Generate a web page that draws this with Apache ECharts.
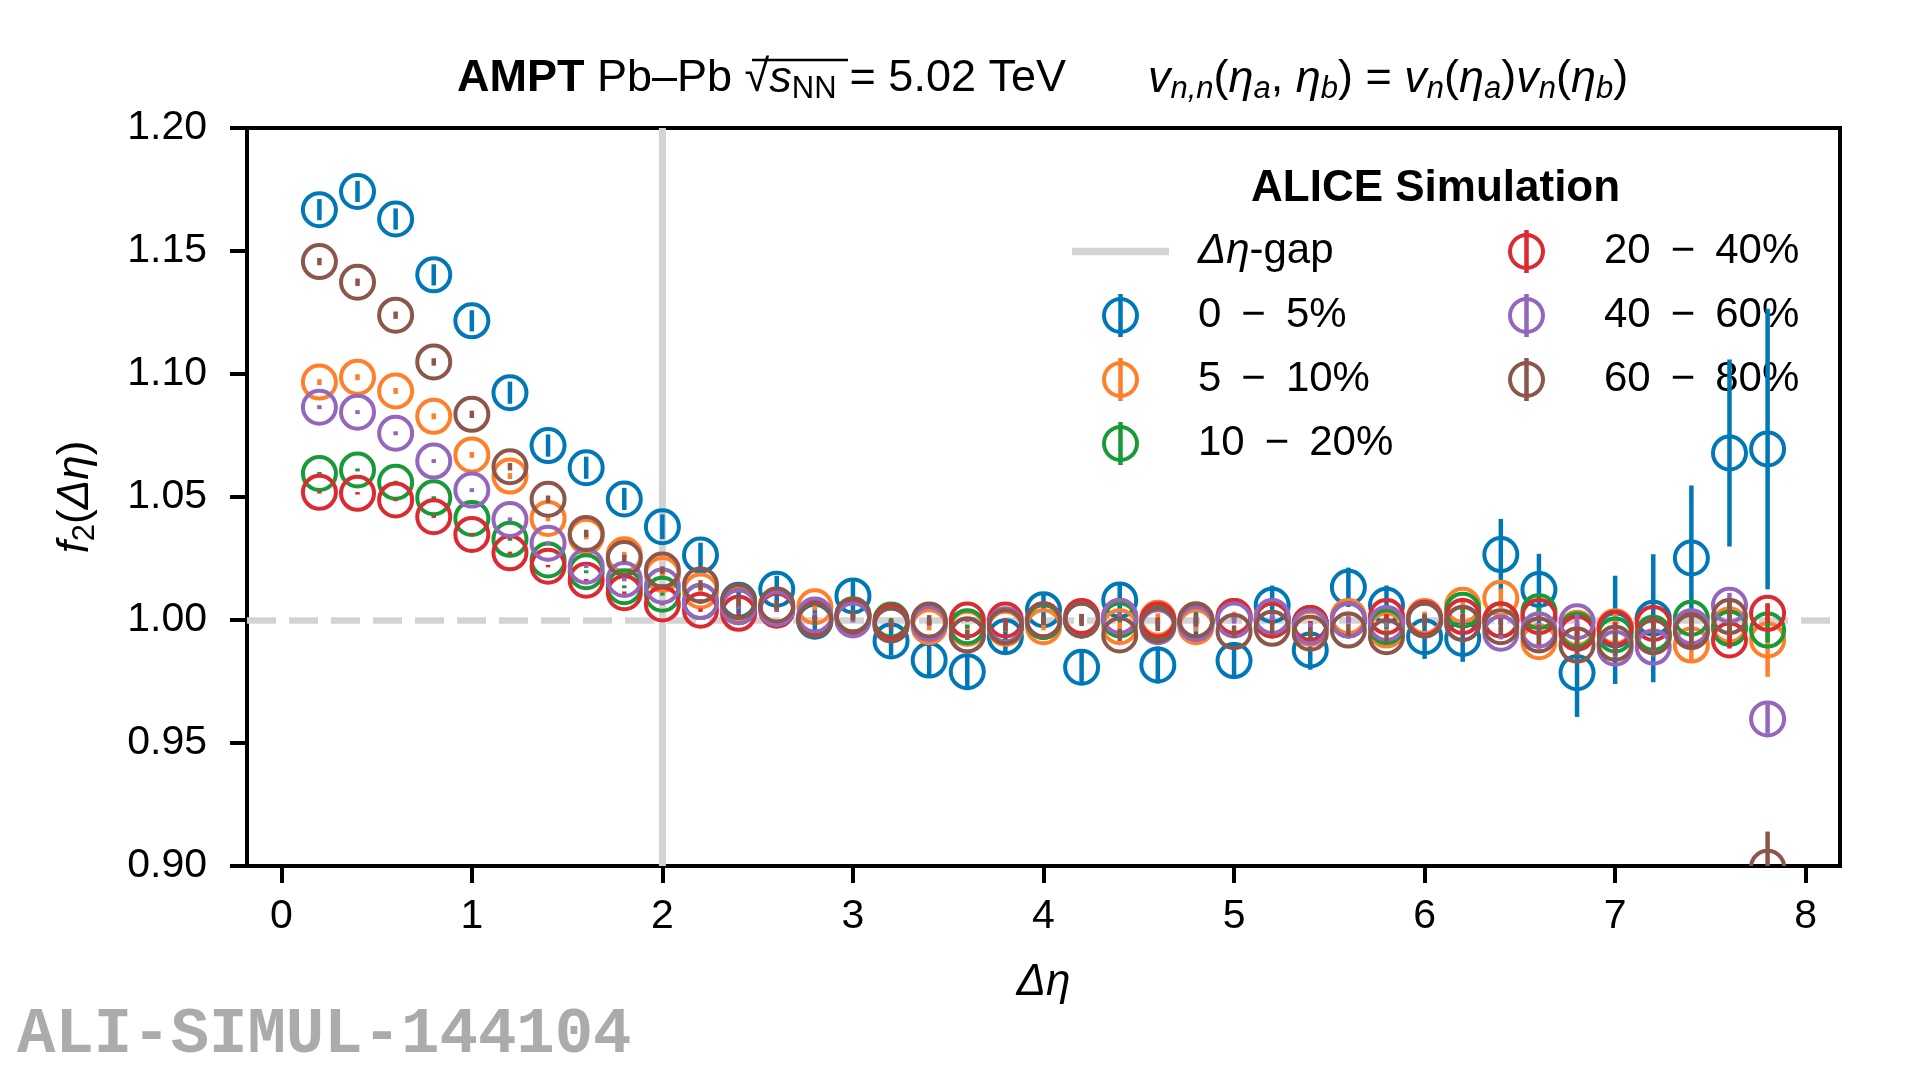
<!DOCTYPE html>
<html><head><meta charset="utf-8">
<script src="https://cdn.jsdelivr.net/npm/echarts@6/dist/echarts.min.js"></script>
<style>html,body{margin:0;padding:0;background:#fff}#c{width:1920px;height:1069px}</style>
</head><body><div id="c"></div>
<script>
// ---------------- data ----------------
const deltaEta = [0.2,0.4,0.6,0.8,1.0,1.2,1.4,1.6,1.8,2.0,2.2,2.4,2.6,2.8,3.0,3.2,3.4,3.6,3.8,4.0,4.2,4.4,4.6,4.8,5.0,5.2,5.4,5.6,5.8,6.0,6.2,6.4,6.6,6.8,7.0,7.2,7.4,7.6,7.8];
const centLabels = ['0 − 5%', '5 − 10%', '10 − 20%', '20 − 40%', '40 − 60%', '60 − 80%'];
const gapLabel = 'Δη-gap';
const gapEta = 2.0;
const refLevel = 1.0;
const xTicks = [0,1,2,3,4,5,6,7,8];
const xRange = [-0.18, 8.18];
const yTicks = [0.90,0.95,1.00,1.05,1.10,1.15,1.20];

const f_0_5  = [1.1668,1.1742,1.1630,1.1403,1.1216,1.0924,1.0709,1.0619,1.0492,1.0379,1.0264,1.0080,1.0125,0.9995,1.0098,0.9915,0.9837,0.9790,0.9932,1.0042,0.9808,1.0081,0.9817,0.9985,0.9835,1.0060,0.9878,1.0133,1.0060,0.9932,0.9925,1.0266,1.0124,0.9786,0.9960,1.0007,1.0252,1.0679,1.0695];
const f_5_10 = [1.0967,1.0987,1.0931,1.0828,1.0671,1.0585,1.0413,1.0340,1.0265,1.0185,1.0118,1.0068,1.0050,1.0054,1.0014,0.9987,0.9973,0.9966,0.9966,0.9973,1.0000,0.9973,1.0007,0.9973,1.0014,1.0000,0.9966,1.0014,0.9959,1.0014,1.0060,1.0088,0.9912,0.9966,0.9973,0.9932,0.9898,0.9980,0.9919];
const f_10_20= [1.0596,1.0610,1.0560,1.0497,1.0413,1.0328,1.0244,1.0196,1.0135,1.0105,1.0075,1.0054,1.0054,1.0007,1.0020,1.0000,0.9993,0.9973,0.9980,0.9993,1.0000,1.0000,0.9986,0.9993,1.0007,1.0000,0.9986,1.0000,0.9973,1.0000,1.0040,1.0000,1.0034,0.9959,0.9939,0.9946,1.0007,0.9966,0.9959];
const f_20_40= [1.0519,1.0515,1.0488,1.0420,1.0348,1.0273,1.0219,1.0162,1.0111,1.0065,1.0040,1.0027,1.0040,1.0007,1.0014,0.9993,0.9993,1.0000,1.0000,1.0000,1.0014,1.0014,1.0000,1.0000,1.0014,1.0000,0.9986,1.0000,1.0014,1.0007,1.0014,1.0000,1.0014,0.9946,0.9966,0.9986,0.9959,0.9919,1.0027];
const f_40_60= [1.0865,1.0845,1.0759,1.0646,1.0528,1.0409,1.0312,1.0219,1.0165,1.0138,1.0075,1.0054,1.0047,1.0020,1.0000,0.9980,0.9986,0.9939,0.9980,1.0000,1.0000,1.0014,0.9973,0.9986,1.0000,1.0014,0.9973,1.0000,0.9986,1.0000,0.9986,0.9946,0.9959,0.9993,0.9885,0.9890,0.9973,1.0060,0.9598];
const f_60_80= [1.1457,1.1373,1.1239,1.1049,1.0836,1.0623,1.0491,1.0352,1.0250,1.0203,1.0142,1.0075,1.0061,1.0000,1.0020,0.9980,1.0000,0.9939,0.9973,1.0000,1.0000,0.9939,0.9980,1.0000,0.9953,0.9966,0.9946,0.9959,0.9932,1.0000,0.9986,0.9973,0.9939,0.9898,0.9905,0.9932,0.9953,1.0014,0.8995];

const e_0_5  = [0.0043,0.0043,0.0043,0.0043,0.0043,0.0045,0.0045,0.0045,0.0045,0.005,0.005,0.005,0.0055,0.0055,0.006,0.006,0.0065,0.0065,0.0065,0.007,0.007,0.007,0.0075,0.0075,0.0075,0.008,0.008,0.008,0.008,0.009,0.0095,0.0145,0.0145,0.018,0.022,0.026,0.0295,0.038,0.057];
const e_5_10 = [0.0012,0.0012,0.0012,0.0012,0.0012,0.0012,0.0012,0.0012,0.0012,0.0012,0.0015,0.0015,0.0015,0.0015,0.0015,0.0015,0.0015,0.0015,0.0015,0.0015,0.002,0.002,0.002,0.002,0.002,0.002,0.002,0.002,0.002,0.002,0.003,0.004,0.004,0.005,0.006,0.006,0.007,0.009,0.015];
const e_10_20= [0.0006,0.0006,0.0006,0.0006,0.0006,0.0006,0.0006,0.0006,0.0006,0.0006,0.0008,0.0008,0.0008,0.0008,0.0008,0.0008,0.0008,0.0008,0.0008,0.0008,0.001,0.001,0.001,0.001,0.001,0.001,0.001,0.001,0.001,0.001,0.0015,0.002,0.002,0.0025,0.003,0.003,0.0035,0.004,0.005];
const e_20_40= [0.0005,0.0005,0.0005,0.0005,0.0005,0.0005,0.0005,0.0005,0.0005,0.0005,0.0007,0.0007,0.0007,0.0007,0.0007,0.0007,0.0007,0.0007,0.0007,0.0007,0.001,0.001,0.001,0.001,0.001,0.001,0.001,0.001,0.001,0.001,0.0012,0.0015,0.0018,0.002,0.0025,0.003,0.003,0.0035,0.004];
const e_40_60= [0.0008,0.0008,0.0008,0.0008,0.0008,0.0008,0.0008,0.0008,0.0008,0.0008,0.001,0.001,0.001,0.001,0.001,0.001,0.001,0.001,0.001,0.001,0.0015,0.0015,0.0015,0.0015,0.0015,0.0015,0.0015,0.0015,0.0015,0.0015,0.002,0.0025,0.003,0.003,0.0035,0.004,0.0045,0.005,0.006];
const e_60_80= [0.0015,0.0015,0.0015,0.0015,0.0015,0.0015,0.0015,0.0015,0.0015,0.0015,0.002,0.002,0.002,0.002,0.002,0.002,0.002,0.002,0.002,0.002,0.0025,0.0025,0.0025,0.0025,0.0025,0.0025,0.0025,0.0025,0.0025,0.0025,0.003,0.0035,0.004,0.0045,0.005,0.0055,0.006,0.007,0.0145];

// ---------------- styles ----------------
const colors = ['#0077b6', '#ff7f2a', '#1a9a36', '#dc2a32', '#9467bd', '#8c564b'];
const gapColor = '#d3d3d3';
const FONT = 'Liberation Sans, Arial, Helvetica, sans-serif';

const groups = [
  {name: centLabels[0], vals: f_0_5,  errs: e_0_5},
  {name: centLabels[1], vals: f_5_10, errs: e_5_10},
  {name: centLabels[2], vals: f_10_20,errs: e_10_20},
  {name: centLabels[3], vals: f_20_40,errs: e_20_40},
  {name: centLabels[4], vals: f_40_60,errs: e_40_60},
  {name: centLabels[5], vals: f_60_80,errs: e_60_80}
];

const markerIcon = 'path://M18.5 3A18.5 18.5 0 1 1 18.5 40A18.5 18.5 0 1 1 18.5 3Z' +
  'M18.5 7A14.5 14.5 0 1 0 18.5 36A14.5 14.5 0 1 0 18.5 7Z' +
  'M16.25 0L20.75 0L20.75 43L16.25 43Z';
const gapIcon = 'path://M0 0L97 0L97 7.5L0 7.5Z';

const series = [];
series.push({
  type: 'line', name: gapLabel, z: 2, silent: true,
  data: [[gapEta, yTicks[0]], [gapEta, yTicks[yTicks.length - 1]]],
  symbol: 'none',
  itemStyle: {color: gapColor},
  lineStyle: {color: gapColor, width: 7},
  markLine: {
    silent: true, symbol: ['none', 'none'], label: {show: false},
    lineStyle: {color: gapColor, width: 6.5, type: [29, 13]},
    data: [{yAxis: refLevel}]
  }
});
groups.forEach((g, i) => {
  const col = colors[i];
  series.push({
    type: 'custom', name: g.name, z: 10 + i, clip: true, silent: true,
    data: deltaEta.map((x, k) => [x, g.vals[k], g.errs[k]]),
    encode: {x: 0, y: 1},
    renderItem: (params, api) => {
      const x = api.value(0), y = api.value(1), e = api.value(2);
      const c = api.coord([x, y]);
      const a = api.coord([x, y - e]);
      const b = api.coord([x, y + e]);
      return {
        type: 'group',
        children: [
          {type: 'line', shape: {x1: a[0], y1: a[1], x2: b[0], y2: b[1]}, style: {stroke: col, lineWidth: 4.5}},
          {type: 'circle', shape: {cx: c[0], cy: c[1], r: 16.5}, style: {fill: 'none', stroke: col, lineWidth: 4}}
        ]
      };
    }
  });
});

const legendRich = {
  n: {fontFamily: FONT, fontSize: 42, color: '#000'},
  i: {fontFamily: FONT, fontSize: 42, fontStyle: 'italic', color: '#000'},
  m: {fontFamily: FONT, fontSize: 42, color: '#000', padding: [0, 20, 0, 20]}
};
const legendFormatter = (name) => {
  if (name === gapLabel) return '{i|Δη}{n|-gap}';
  const parts = name.split(' − ');
  return '{n|' + parts[0] + '}{m|−}{n|' + parts[1] + '}';
};
const legendCommon = {
  orient: 'vertical', itemWidth: 97, itemHeight: 43, itemGap: 21,
  selectedMode: false, symbolKeepAspect: true,
  formatter: legendFormatter,
  textStyle: {fontFamily: FONT, fontSize: 42, color: '#000', lineHeight: 43, padding: [0, 0, 0, 24], rich: legendRich}
};
const legendItem = (name, i) => ({name: name, icon: markerIcon, itemStyle: {color: colors[i], borderWidth: 0}});

const titleRich1 = {
  b: {fontFamily: FONT, fontSize: 45, fontWeight: 'bold', color: '#000', lineHeight: 52},
  n: {fontFamily: FONT, fontSize: 45, fontWeight: 'normal', color: '#000', lineHeight: 52},
  g: {fontFamily: FONT, fontSize: 45, fontWeight: 'normal', color: '#000', lineHeight: 52, width: 13},
  i: {fontFamily: FONT, fontSize: 45, fontWeight: 'normal', fontStyle: 'italic', color: '#000', lineHeight: 52},
  s: {fontFamily: FONT, fontSize: 31, fontWeight: 'normal', color: '#000', lineHeight: 24, verticalAlign: 'bottom'},
  si: {fontFamily: FONT, fontSize: 31, fontWeight: 'normal', fontStyle: 'italic', color: '#000', lineHeight: 24, verticalAlign: 'bottom'}
};
const titleStyle = {fontFamily: FONT, fontSize: 45, fontWeight: 'normal', color: '#000', rich: titleRich1};

const option = {
  animation: false,
  backgroundColor: '#fff',
  grid: {left: 247, right: 80, top: 128, bottom: 203, show: true, borderColor: '#000', borderWidth: 4, containLabel: false},
  title: [
    {left: 452, top: 48, text: '{b|AMPT}{n| Pb–Pb }{n|√}{i|s}{s|NN}{g|\u00a0}{n|= 5.02 TeV}', textStyle: titleStyle},
    {left: 1143, top: 48, text: '{i|v}{si|n,n}{n|(}{i|η}{si|a}{n|, }{i|η}{si|b}{n|) = }{i|v}{si|n}{n|(}{i|η}{si|a}{n|)}{i|v}{si|n}{n|(}{i|η}{si|b}{n|)}', textStyle: titleStyle},
    {left: 1246, top: 158, text: 'ALICE Simulation', textStyle: {fontFamily: FONT, fontSize: 44, fontWeight: 'bold', color: '#000', lineHeight: 52}},
    {left: 12, top: 996, text: 'ALI-SIMUL-144104', textStyle: {fontFamily: 'Liberation Mono, Courier New, monospace', fontSize: 64, fontWeight: 'bold', color: '#ababab', lineHeight: 70}}
  ],
  graphic: [
    {type: 'line', shape: {x1: 752, y1: 60, x2: 848, y2: 60}, style: {stroke: '#000', lineWidth: 2.5}, silent: true}
  ],
  legend: [
    Object.assign({left: 1067, top: 225, data: [{name: gapLabel, icon: gapIcon, itemStyle: {color: gapColor, borderWidth: 0}}, legendItem(centLabels[0], 0), legendItem(centLabels[1], 1), legendItem(centLabels[2], 2)]}, legendCommon),
    Object.assign({left: 1503, top: 225, data: [legendItem(centLabels[3], 3), legendItem(centLabels[4], 4), legendItem(centLabels[5], 5)]}, legendCommon)
  ],
  xAxis: {
    type: 'value', min: xRange[0], max: xRange[1],
    name: '{i|Δη}', nameLocation: 'middle', nameGap: 92,
    nameTextStyle: {rich: {i: {fontFamily: FONT, fontSize: 44, fontStyle: 'italic', color: '#000', lineHeight: 50}}},
    axisLine: {show: true, onZero: false, lineStyle: {color: '#000', width: 4}},
    axisTick: {show: true, inside: false, length: 17, lineStyle: {color: '#000', width: 4}, customValues: xTicks},
    axisLabel: {show: true, margin: 30, fontFamily: FONT, fontSize: 41, color: '#000', customValues: xTicks, formatter: (v) => String(v)},
    splitLine: {show: false}
  },
  yAxis: {
    type: 'value', min: yTicks[0], max: yTicks[yTicks.length - 1],
    name: '{i|f}{s|2}{n|(}{i|Δη}{n|)}', nameLocation: 'middle', nameGap: 146, nameRotate: 90,
    nameTextStyle: {rich: {
      i: {fontFamily: FONT, fontSize: 44, fontStyle: 'italic', color: '#000', lineHeight: 50},
      n: {fontFamily: FONT, fontSize: 44, color: '#000', lineHeight: 50},
      s: {fontFamily: FONT, fontSize: 31, color: '#000', lineHeight: 22, verticalAlign: 'bottom'}
    }},
    axisLine: {show: true, onZero: false, lineStyle: {color: '#000', width: 4}},
    axisTick: {show: true, inside: false, length: 17, lineStyle: {color: '#000', width: 4}, customValues: yTicks},
    axisLabel: {show: true, margin: 40, fontFamily: FONT, fontSize: 41, color: '#000', customValues: yTicks, formatter: (v) => v.toFixed(2)},
    splitLine: {show: false}
  },
  series: series
};

const chart = echarts.init(document.getElementById('c'), null, {renderer: 'canvas'});
chart.setOption(option);
</script>
</body></html>
